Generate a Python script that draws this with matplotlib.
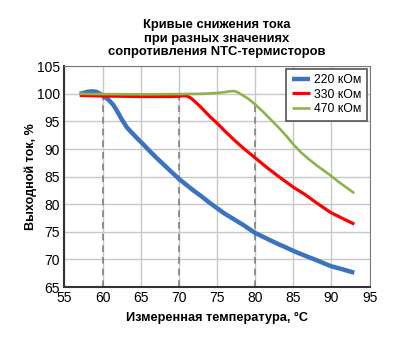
import matplotlib
matplotlib.use("Agg")
import matplotlib.pyplot as plt

plt.rcParams['font.family'] = ['Liberation Sans', 'DejaVu Sans']

# data
t_220 = [57, 57.5, 58, 58.6, 59.2, 59.7, 60.2, 60.8, 61.4, 61.9, 62.5, 63.2, 63.8, 64.5, 65.3,
         66.2, 67, 68, 69, 70, 71, 72, 73, 74, 75, 76, 77.2, 78.5, 80, 81.5, 83, 84, 85.1,
         86.5, 88, 89.9, 91.5, 93]
i_220 = [100.0, 100.15, 100.35, 100.45, 100.35, 100.0, 99.5, 98.9, 98.0, 96.9, 95.4, 93.9, 93.0,
         92.0, 90.9, 89.6, 88.5, 87.2, 85.9, 84.6, 83.5, 82.4, 81.4, 80.3, 79.3, 78.3, 77.3,
         76.2, 74.8, 73.8, 72.8, 72.2, 71.5, 70.7, 69.9, 68.8, 68.2, 67.6]

t_330 = [57, 60, 65, 69, 70, 70.6, 71.1, 71.6, 72.1, 72.8, 73.5, 74.2, 75, 76, 77.2, 78.5, 80,
         81.5, 83, 84, 85.1, 86.5, 88, 89.9, 91.5, 93]
i_330 = [99.7, 99.6, 99.5, 99.5, 99.55, 99.65, 99.6, 99.2, 98.6, 97.7, 96.7, 95.7, 94.7, 93.3,
         91.7, 90.1, 88.4, 86.7, 85.1, 84.1, 83.0, 81.8, 80.3, 78.5, 77.4, 76.4]

t_470 = [57, 60, 65, 70, 73, 75, 76, 76.7, 77.2, 77.7, 78.3, 79, 80, 81, 82, 83, 84, 85.1, 86,
         87, 88, 89, 89.9, 91, 92, 93]
i_470 = [100.0, 99.95, 99.9, 99.95, 100.0, 100.15, 100.3, 100.45, 100.5, 100.3, 99.8, 99.2,
         98.1, 96.8, 95.4, 94.0, 92.5, 90.7, 89.4, 88.2, 87.1, 86.1, 85.2, 84.0, 83.0, 82.0]

markers_t = [60, 70, 80]
markers_i = [99.6, 99.55, 98.1]

fig = plt.figure(figsize=(4.0, 3.43), dpi=100)
ax = fig.add_axes([0.161, 0.163, 0.763, 0.644])

ax.grid(True, color='#c8c8c8', linewidth=1.0)
ax.set_axisbelow(True)

for t, v in zip(markers_t, markers_i):
    ax.plot([t, t], [65, v], color='#808080', linestyle=(0, (4, 3)), linewidth=1.2, zorder=2)

ax.plot(t_220, i_220, color='#3b73c0', linewidth=3.2, label='220 кОм', zorder=3,
        solid_joinstyle='round', solid_capstyle='butt')
ax.plot(t_330, i_330, color='#ff0000', linewidth=2.3, label='330 кОм', zorder=3,
        solid_joinstyle='round', solid_capstyle='butt')
ax.plot(t_470, i_470, color='#8db44a', linewidth=1.9, label='470 кОм', zorder=3,
        solid_joinstyle='round', solid_capstyle='butt')

ax.set_xlim(55, 95)
ax.set_ylim(65, 105)
ax.set_xticks(range(55, 96, 5))
ax.set_yticks(range(65, 106, 5))
ax.tick_params(length=0, labelsize=10, pad=3)

for s in ax.spines.values():
    s.set_color('#7a7a7a')
ax.spines['left'].set_color('#333333')
ax.spines['bottom'].set_color('#333333')
ax.spines['left'].set_linewidth(1.5)
ax.spines['bottom'].set_linewidth(1.5)

ax.set_xlabel('Измеренная температура, °С', fontsize=9.2, fontweight='bold', labelpad=5)
ax.set_ylabel('Выходной ток, %', fontsize=9.0, fontweight='bold', labelpad=0)
ax.set_title('Кривые снижения тока\nпри разных значениях\nсопротивления NTC-термисторов',
             fontsize=9.4, fontweight='bold', linespacing=1.15, pad=8)

leg = ax.legend(loc='upper right', fontsize=8.8, fancybox=False, framealpha=1,
                edgecolor='#555555', handlelength=1.5, handletextpad=0.35, borderpad=0.45,
                labelspacing=0.2, borderaxespad=0.2)
leg.get_frame().set_linewidth(1.2)

fig.savefig('out.png', dpi=100)
